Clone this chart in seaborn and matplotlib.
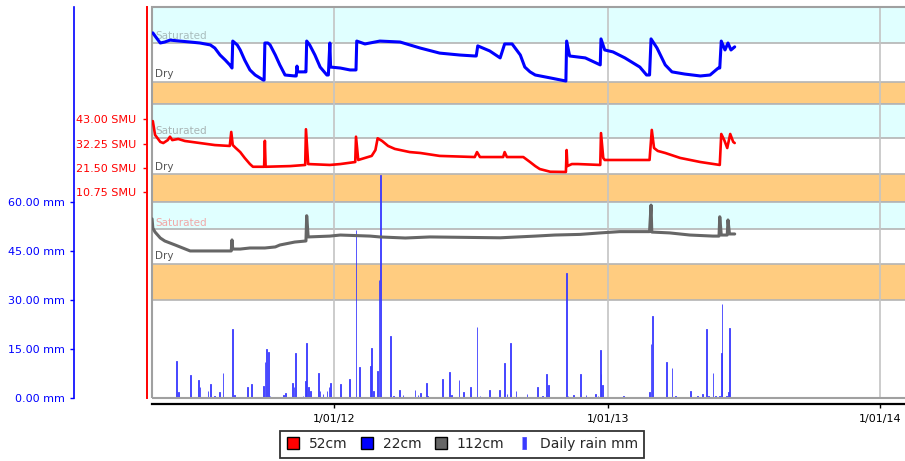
import numpy as np
import pandas as pd
import matplotlib
matplotlib.use("Agg")
import matplotlib.pyplot as plt
from matplotlib.patches import Rectangle
from matplotlib.lines import Line2D
from matplotlib.ticker import FixedLocator, FuncFormatter
import seaborn as sns

# ---------------- data (days counted from 1 Jan 2012) ----------------
BASE_DATE = "2012-01-01"

rain_days = [-211, -209, -193, -182, -180, -169, -166, -160, -154, -149, -136, -134,
             -116, -111, -95, -93, -91, -88, -86, -68, -65, -56, -54, -52, -42, -39,
             -37, -35, -32, -21, -19, -15, -10, -7, -5, 8, 20, 29, 34, 48, 50, 52, 58,
             60, 62, 75, 79, 87, 92, 108, 112, 115, 123, 125, 145, 154, 157, 167, 173,
             182, 191, 195, 208, 221, 228, 231, 236, 243, 258, 272, 279, 284, 287, 311,
             313, 320, 330, 337, 350, 353, 356, 357, 359, 387, 422, 424, 426, 445, 452,
             457, 477, 486, 493, 498, 501, 507, 510, 516, 518, 519, 525, 528, 529]
rain_mm = [11.2, 1.7, 7.1, 5.5, 3.3, 2.2, 4.3, 0.5, 1.7, 7.6, 21.0, 0.8,
           3.5, 4.3, 3.8, 10.9, 14.9, 14.0, 0.5, 1.0, 1.4, 4.7, 3.5, 13.7, 0.7, 5.1,
           16.9, 3.3, 2.2, 7.6, 2.2, 1.2, 2.0, 3.3, 4.7, 4.3, 5.8, 51.4, 9.6, 9.9, 15.3, 2.0, 8.4,
           36.0, 68.3, 19.0, 0.5, 2.5, 0.8, 2.5, 1.0, 1.5, 4.7, 0.5, 5.8, 8.0, 0.8, 5.5, 1.7,
           3.3, 21.8, 0.5, 2.5, 2.5, 10.8, 1.2, 16.9, 2.2, 1.2, 3.3, 0.5, 7.3, 4.1, 38.3,
           0.5, 0.8, 7.3, 0.8, 1.2, 0.5, 14.7, 7.3, 4.1, 0.5, 1.7, 16.5, 25.1, 11.1, 9.1,
           0.5, 2.2, 0.5, 1.2, 21.0, 0.5, 7.6, 0.5, 0.5, 13.7, 28.8, 0.5, 1.7, 21.4]

s52_days = [-243, -240, -233, -229, -223, -220, -217, -209, -200, -180, -160, -140, -138,
            -136, -132, -126, -120, -113, -109, -94, -93, -92, -59, -39, -38, -35, -6, 8,
            28, 29, 32, 41, 50, 55, 58, 64, 72, 81, 101, 115, 141, 188, 191, 195, 226, 228,
            231, 253, 262, 269, 275, 289, 310, 311, 312, 318, 326, 356, 357, 360, 362, 422,
            425, 428, 433, 443, 463, 490, 516, 518, 522, 526, 530, 534, 536]
s52_smu = [42.2, 36.1, 33.0, 32.5, 33.8, 35.3, 33.8, 34.3, 33.4, 32.5, 31.6, 31.2, 37.4,
           31.6, 30.3, 28.5, 25.9, 23.2, 22.0, 22.0, 33.5, 22.0, 22.3, 22.8, 38.6, 23.2, 22.8, 23.2,
           24.1, 35.3, 25.0, 25.9, 26.8, 29.4, 34.6, 33.4, 31.2, 29.9, 28.5, 28.1, 26.8, 26.3, 28.5, 26.3, 26.3, 28.5,
           26.3, 26.3, 24.1, 22.3, 21.0, 19.8, 19.7, 29.4, 22.3, 23.2, 23.2, 22.8, 36.9, 25.9, 25.0, 25.0,
           38.3, 30.3, 29.0, 28.1, 25.9, 24.1, 22.8, 36.5, 33.8, 30.3, 36.5, 33.0, 32.5]

s22_days = [-243, -240, -233, -227, -220, -207, -193, -180, -166, -160, -153, -146, -140,
            -137, -136, -130, -126, -120, -113, -106, -95, -94, -93, -89, -86, -79, -73, -66,
            -53, -51, -50, -49, -39, -38, -37, -33, -26, -19, -10, -8, -6, -5, 8, 21, 29, 30,
            41, 61, 88, 115, 141, 168, 188, 190, 192, 208, 222, 228, 238, 249, 255, 262, 269,
            289, 310, 311, 315, 336, 356, 357, 362, 373, 389, 409, 418, 422, 424, 432, 443,
            452, 469, 490, 503, 514, 516, 518, 523, 527, 531, 536]
s22_smu = [38.8, 37.5, 34.6, 35.0, 35.8, 35.4, 35.0, 34.6, 33.8, 32.5, 29.6, 27.5, 25.5,
           24.2, 35.4, 33.8, 31.7, 27.5, 23.4, 21.3, 19.2, 19.2, 34.6, 34.6, 33.8, 29.6, 25.5, 21.3,
           20.9, 20.9, 25.0, 22.6, 22.6, 22.6, 35.4, 33.8, 29.6, 24.6, 21.3, 21.3, 34.6, 24.6, 24.2, 23.4, 23.4, 35.4,
           34.2, 35.4, 35.0, 32.5, 30.4, 29.6, 29.2, 29.2, 33.4, 31.3, 28.4, 34.2, 34.2, 29.6, 24.6, 22.6, 21.3,
           20.1, 18.8, 35.4, 29.2, 28.4, 25.5, 36.3, 31.7, 30.9, 28.4, 24.6, 21.3, 21.3, 36.3, 32.5, 25.5,
           22.6, 21.7, 20.9, 21.3, 24.2, 24.2, 35.4, 31.7, 34.6, 31.7, 33.0]

s112_days = [-244, -243, -240, -233, -227, -213, -193, -166, -138, -137, -136, -126, -113,
             -93, -79, -73, -53, -38, -37, -35, -6, 8, 48, 61, 95, 128, 222, 269, 295, 329,
             356, 382, 422, 424, 425, 449, 476, 507, 515, 516, 518, 526, 527, 529, 536]
s112_smu = [39.5, 35.2, 33.3, 30.5, 29.1, 27.2, 24.4, 24.4, 24.4, 29.6, 25.3, 25.3, 25.8,
            25.8, 26.3, 27.2, 28.6, 29.1, 41.0, 31.0, 31.4, 31.9, 31.4, 31.0, 30.5, 31.0, 30.6, 31.4, 31.9, 32.2,
            32.9, 33.5, 33.5, 46.0, 33.3, 32.9, 31.9, 31.4, 31.4, 40.5, 31.9, 31.9, 39.0, 32.4, 32.4]

smu_ticks = [10.75, 21.50, 32.25, 43.00]
mm_ticks = [0, 15, 30, 45, 60]
year_ticks = ["2012-01-01", "2013-01-01", "2014-01-01"]
legend_labels = ["52cm", "22cm", "112cm", "Daily rain mm"]

# ---------------- styling ----------------
sns.set_style("white")
plt.rcParams["font.family"] = ["DejaVu Sans"]

C_RED = "#ff0000"
C_BLUE = "#0000ff"
C_GRAY = "#666666"
C_RAIN = "#3a3aff"
C_SAT = "#e0ffff"
C_DRY = "#ffcc80"
C_EDGE = "#b4b4b4"

base = pd.Timestamp(BASE_DATE)
to_dates = lambda d: base + pd.to_timedelta(np.asarray(d, dtype=float), unit="D")

W, H = 905, 461
fig = plt.figure(figsize=(W / 100, H / 100), dpi=100)
fig.patch.set_facecolor("white")
left, right, top, bottom = 152, 908, 7, 398
pos = [left / W, 1 - bottom / H, (right - left) / W, (bottom - top) / H]

ax = fig.add_axes(pos)
ax.set_facecolor("white")

# background bands (axes fractions)
bands = [(0.9079, 1.0, C_SAT), (0.7512, 0.8082, C_DRY),
         (0.6642, 0.7512, C_SAT), (0.5013, 0.5729, C_DRY),
         (0.4315, 0.5013, C_SAT), (0.2506, 0.3435, C_DRY)]
for b0, b1, c in bands:
    ax.add_patch(Rectangle((0, b0), 1, b1 - b0, transform=ax.transAxes,
                           facecolor=c, edgecolor=C_EDGE, lw=1.2, zorder=0.1))

# band labels
labels = [(0.9194, "Saturated", "#a9bdbd"), (0.8210, "Dry", "#555555"),
          (0.6744, "Saturated", "#a9b4b4"), (0.5819, "Dry", "#555555"),
          (0.4410, "Saturated", "#f0a8a8"), (0.3560, "Dry", "#555555")]
for yf, t, c in labels:
    ax.text(0.004, yf, t, transform=ax.transAxes, fontsize=7.5, color=c,
            va="baseline", ha="left", zorder=0.3)

# rain bars
ax.bar(to_dates(rain_days), rain_mm, width=0.9, color=C_RAIN, edgecolor=C_RAIN,
       linewidth=0.6, zorder=2)
ax.set_ylim(0, 119.7)
ax.set_xlim(base + pd.Timedelta(days=-244.1), base + pd.Timedelta(days=768.0))

# x axis
ax.xaxis.set_major_locator(FixedLocator([matplotlib.dates.date2num(pd.Timestamp(d)) for d in year_ticks]))
ax.xaxis.set_major_formatter(FuncFormatter(
    lambda v, p: (lambda d: f"{d.day}/{d.month:02d}/{d.year % 100:02d}")(matplotlib.dates.num2date(v))))
ax.grid(axis="x", color="#c4c4c4", lw=1.2, zorder=0.5)
ax.grid(axis="y", visible=False)
ax.set_axisbelow(True)
ax.tick_params(axis="x", direction="out", length=3, width=1, colors="black",
               labelsize=8, pad=4, bottom=True)
ax.spines["bottom"].set_position(("outward", 4.3))
ax.spines["bottom"].set_color("black")
ax.spines["bottom"].set_linewidth(1.6)
ax.spines["top"].set_visible(False)
ax.spines["right"].set_visible(False)

# rain y axis (far left, blue)
ax.spines["left"].set_position(("outward", 56))
ax.spines["left"].set_color(C_BLUE)
ax.spines["left"].set_linewidth(1.2)
ax.yaxis.set_major_locator(FixedLocator(mm_ticks))
ax.yaxis.set_major_formatter(FuncFormatter(lambda v, p: f"{v:.2f} mm"))
ax.tick_params(axis="y", direction="out", length=3, width=1, colors=C_BLUE,
               labelsize=8, pad=3.5, left=True)
ax.set_xlabel("")
ax.set_ylabel("")

# plot frame
ax.add_patch(Rectangle((0, 0), 1, 1, transform=ax.transAxes, fill=False,
                       edgecolor="#a0a0a0", lw=1.5, zorder=5, clip_on=False))

# 52cm (red) on own scale with visible axis
ax_r = ax.twinx()
sns.lineplot(x=to_dates(s52_days), y=s52_smu, ax=ax_r, color=C_RED, lw=1.9,
             estimator=None, sort=False)
ax_r.set_ylim(-80.30, 92.68)
ax_r.yaxis.tick_left()
ax_r.yaxis.set_label_position("left")
for s in ["right", "top", "bottom"]:
    ax_r.spines[s].set_visible(False)
ax_r.spines["left"].set_visible(True)
ax_r.spines["left"].set_position(("outward", 3.6))
ax_r.spines["left"].set_color(C_RED)
ax_r.spines["left"].set_linewidth(1.4)
ax_r.yaxis.set_major_locator(FixedLocator(smu_ticks))
ax_r.yaxis.set_major_formatter(FuncFormatter(lambda v, p: f"{v:.2f} SMU"))
ax_r.tick_params(axis="y", direction="out", length=3, width=1, colors=C_RED,
                 labelsize=8, pad=4.5, left=True, right=False)
ax_r.tick_params(axis="x", bottom=False, labelbottom=False, top=False)
ax_r.set_ylabel("")
ax_r.set_xlabel("")

# 22cm (blue) hidden scale
ax_b = ax.twinx()
sns.lineplot(x=to_dates(s22_days), y=s22_smu, ax=ax_b, color=C_BLUE, lw=2.2,
             estimator=None, sort=False)
ax_b.set_ylim(-112.87, 49.55)
ax_b.set_axis_off()

# 112cm (gray) hidden scale
ax_g = ax.twinx()
sns.lineplot(x=to_dates(s112_days), y=s112_smu, ax=ax_g, color=C_GRAY, lw=2.2,
             estimator=None, sort=False)
ax_g.set_ylim(-44.84, 139.28)
ax_g.set_axis_off()

ax.set_xlim(base + pd.Timedelta(days=-244.1), base + pd.Timedelta(days=768.0))

# legend
rain_marker = [(-0.2, -0.5), (0.2, -0.5), (0.2, 0.5), (-0.2, 0.5)]
handles = [
    Line2D([], [], ls="none", marker="s", markersize=8.6, markerfacecolor=C_RED, markeredgecolor="black", markeredgewidth=1),
    Line2D([], [], ls="none", marker="s", markersize=8.6, markerfacecolor=C_BLUE, markeredgecolor="black", markeredgewidth=1),
    Line2D([], [], ls="none", marker="s", markersize=8.6, markerfacecolor=C_GRAY, markeredgecolor="black", markeredgewidth=1),
    Line2D([], [], ls="none", marker=rain_marker, markersize=8.6, markerfacecolor=C_RAIN, markeredgecolor=C_RAIN, markeredgewidth=0.5),
]
leg = fig.legend(handles, legend_labels, loc="upper center", bbox_to_anchor=(462 / W, 1 - 431 / H),
                 ncol=4, fontsize=10, frameon=True, fancybox=False, edgecolor="black",
                 handlelength=1.0, handletextpad=0.6, columnspacing=0.95, borderpad=0.45,
                 borderaxespad=0)
leg.get_frame().set_linewidth(1.3)

fig.savefig("out.png", dpi=100, facecolor="white")
